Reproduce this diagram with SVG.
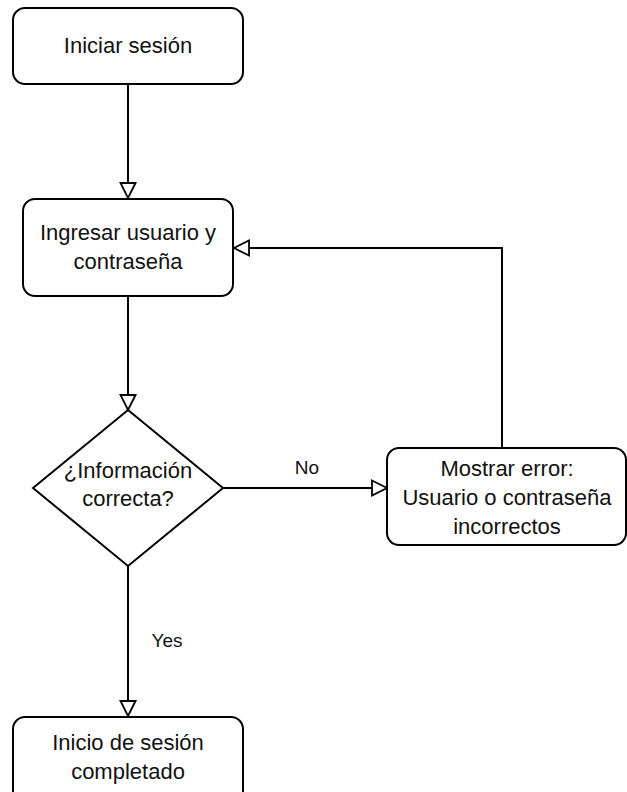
<svg xmlns="http://www.w3.org/2000/svg" width="627" height="792" viewBox="0 0 627 792">
<defs>
<style>
.box{fill:#fff;stroke:#000;stroke-width:2}
.t{font-family:"Liberation Sans",Arial,sans-serif;font-size:22px;fill:#111;text-anchor:middle}
.l{font-family:"Liberation Sans",Arial,sans-serif;font-size:19px;fill:#111;text-anchor:middle}
.c{fill:none;stroke:#000;stroke-width:2}
</style>
<marker id="arr" viewBox="0 0 18 18" refX="16" refY="9" markerWidth="18" markerHeight="18" markerUnits="userSpaceOnUse" orient="auto">
<path d="M1,1.5 L16,9 L1,16.5 Z" fill="#fff" stroke="#000" stroke-width="1.8"/>
</marker>
</defs>
<rect width="627" height="792" fill="#fff"/>
<g id="connectors">
<path class="c" d="M128,84 L128,198" marker-end="url(#arr)"/>
<path class="c" d="M128,296 L128,410" marker-end="url(#arr)"/>
<path class="c" d="M223,488 L387,488" marker-end="url(#arr)"/>
<path class="c" d="M502,448 L502,248 L234,248" marker-end="url(#arr)"/>
<path class="c" d="M128,566 L128,716" marker-end="url(#arr)"/>
<text class="l" x="307" y="474">No</text>
<text class="l" x="167" y="647">Yes</text>
</g>
<g id="n1">
<rect class="box" x="13" y="8" width="230" height="76" rx="12"/>
<text class="t" x="128" y="53">Iniciar sesión</text>
</g>
<g id="n2">
<rect class="box" x="23" y="199" width="210" height="97" rx="12"/>
<text class="t" x="128" y="240">Ingresar usuario y</text>
<text class="t" x="128" y="269">contraseña</text>
</g>
<g id="n3">
<path class="box" d="M128,410 L223,488 L128,566 L33,488 Z"/>
<text class="t" x="128" y="478">¿Información</text>
<text class="t" x="128" y="506">correcta?</text>
</g>
<g id="n4">
<rect class="box" x="387" y="448" width="239" height="97" rx="12"/>
<text class="t" x="507" y="476">Mostrar error:</text>
<text class="t" x="507" y="505">Usuario o contraseña</text>
<text class="t" x="507" y="534">incorrectos</text>
</g>
<g id="n5">
<rect class="box" x="13" y="717" width="230" height="95" rx="12"/>
<text class="t" x="128" y="750">Inicio de sesión</text>
<text class="t" x="128" y="779">completado</text>
</g>
</svg>
